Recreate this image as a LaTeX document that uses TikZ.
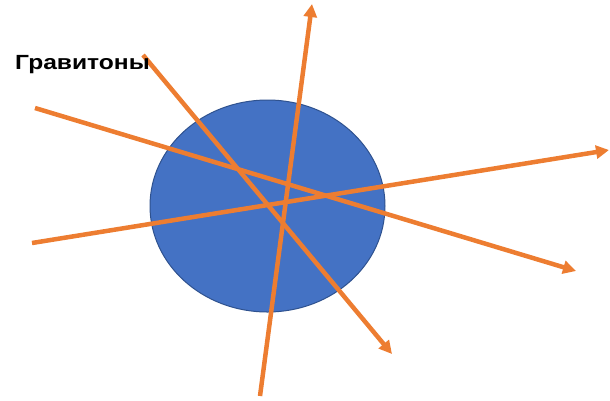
\documentclass[tikz,border=0pt]{standalone}
\usepackage{fontspec}
\setmainfont{Liberation Sans}
\usetikzlibrary{arrows.meta,shapes.geometric}
\definecolor{rayorange}{HTML}{ED7D31}
\definecolor{ballblue}{HTML}{4472C4}
\definecolor{balledge}{HTML}{2F528F}
\begin{document}
\begin{tikzpicture}[x=1pt,y=-1pt,
  ray/.style={draw=rayorange,line width=4.5pt,-{Triangle[length=13pt,width=13pt]}},
  lbl/.style={font=\bfseries\fontsize{20.5}{24}\selectfont,anchor=west,inner sep=0pt,xscale=1.2}]
\useasboundingbox (0,0) rectangle (610,400);
\node[draw=balledge,fill=ballblue,line width=1pt,ellipse,minimum width=235pt,minimum height=212pt,inner sep=0pt] (ball) at (267.5,206) {};
\coordinate (a1) at (35,108);  \coordinate (b1) at (576,271);
\coordinate (a2) at (143,55);  \coordinate (b2) at (392,354);
\coordinate (a3) at (260,396); \coordinate (b3) at (312,4);
\coordinate (a4) at (32,243);  \coordinate (b4) at (609,150);
\draw[ray] (a1) -- (b1);
\draw[ray] (a2) -- (b2);
\draw[ray] (a3) -- (b3);
\draw[ray] (a4) -- (b4);
\node[lbl] (t) at (15,65) {Гравитоны};
\end{tikzpicture}
\end{document}
